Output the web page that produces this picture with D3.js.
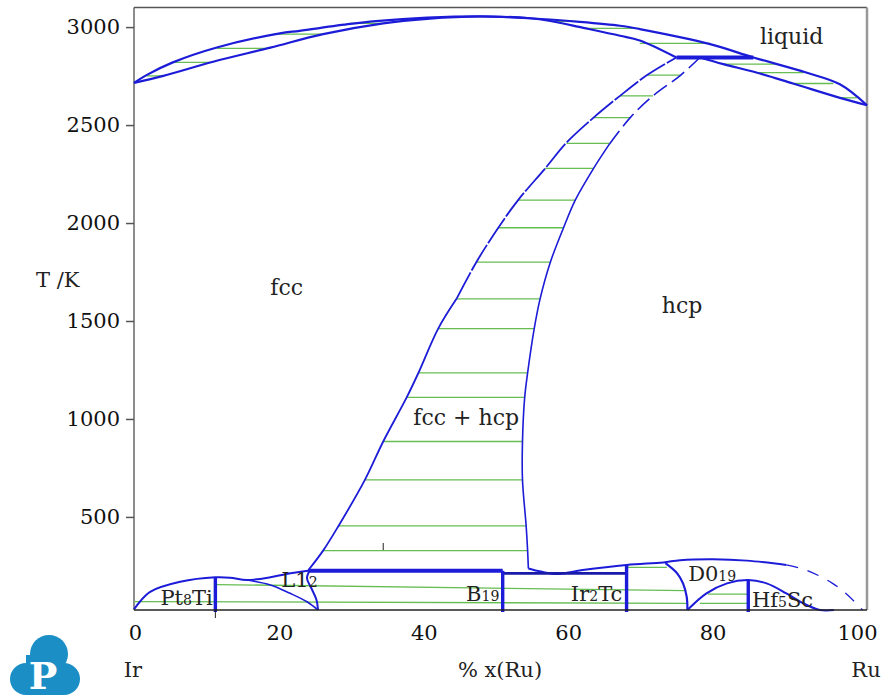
<!DOCTYPE html>
<html><head><meta charset="utf-8">
<script src="https://cdn.jsdelivr.net/npm/d3@7"></script>
<style>body{margin:0;background:#fff} svg{display:block}</style>
</head><body>
<svg id="chart" width="883" height="700"></svg>
<script>
// Ir–Ru phase diagram: composition x(Ru) in %, temperature in K

// liquid / solid boundaries
const liquidus = [[0,2715],[1.7,2755],[5.3,2820],[11.3,2896],[19.9,2968],[22.6,2981],[29.5,3016],[33,3030],[40,3048],[47.2,3055],[54,3045],[60.8,3027],[66.3,3007],[69.0,2990],[78.6,2913],[84.5,2845],[91.7,2768],[96.3,2708],[100,2601]];
const fccSolidus = [[0,2715],[4.0,2751],[10.8,2823],[18.6,2895],[25.8,2964],[34.0,3019],[40,3042],[47.2,3054],[54,3045],[56.8,3031],[61.3,2996],[66.3,2956],[69.0,2932],[74.0,2845]];
const hcpSolidus = [[77.2,2845],[80.4,2811],[84.9,2768],[89.9,2712],[96.3,2639],[100,2601]];
const peritecticT = 2845, peritecticX = [74.0, 84.5];

// fcc + hcp two-phase boundaries
const fccSolvus = [[23.8,229],[25.8,328],[27.9,454],[31.5,689],[34.0,885],[37.2,1110],[38.8,1235],[41.5,1461],[44.0,1613],[46.7,1800],[49.7,1976],[52.4,2117],[56.1,2279],[59.0,2410],[62.7,2538],[66.3,2649],[70.0,2755],[74.0,2845]];
const hcpSolvus = [[53.8,237],[53.7,328],[53.5,454],[53.0,689],[53.0,885],[53.3,1110],[53.7,1235],[54.6,1461],[55.4,1613],[56.8,1800],[58.6,1976],[60.2,2117],[62.7,2279],[64.9,2405],[67.7,2538],[70.8,2649],[74.6,2755],[77.2,2845]];
const fccSolvusDashFrom = 1613, hcpSolvusDashFrom = 2405;

// low-temperature ordered phases
const pt8TiDome = [[0,28],[0.8,67],[2.2,118],[6.3,169],[11.1,192],[13.1,190],[15.4,178],[18.6,192],[20.8,209],[24.0,227]];
const l12Lower = [[15.4,178],[18.6,153],[21.3,110],[23.6,67],[25.1,25]];
const l12Right = [[24.0,229],[23.6,187],[24.2,136],[24.9,76],[25.1,25]];
const hcpLow = [[53.8,237],[55.5,221],[57.7,209],[61.2,229],[67.2,255],[72.2,268],[74.5,279],[79.0,284],[83.6,277],[89.0,255]];
const hcpLowDashed = [[89.0,255],[91.7,229],[95.3,161],[97.1,110],[99.4,25]];
const d019Left = [[72.5,264],[74.1,212],[74.9,161],[75.4,93],[75.5,25]];
const hf5ScDome = [[75.5,25],[78.1,110],[80.9,161],[83.8,178],[86.3,161],[89.0,110],[91.3,59],[93.6,25],[95.5,25]];
const compoundLines = [[11.1,192],[50.3,225],[67.2,255],[83.8,178]];   // [x, top T]
const threePhase = [225, 23.8, 50.3];
const b19Top = [212, 50.3, 67.2];

// tie lines [T, x1, x2]
const liquidTies = [[2751,1.7,4.0],[2820,5.3,10.8],[2891,11.3,18.6],[2964,19.0,25.8],[3019,29.5,34.0],[3029,56.8,60.4],[2993,61.3,69.0],[2917,69.0,78.6],
  [2811,80.4,87.7],[2768,84.9,91.3],[2712,89.9,95.4],[2639,96.3,98.6]];
const twoPhaseTies = [[2755,70.0,74.6],[2649,66.3,70.8],[2538,62.7,67.7],[2407,59.0,64.9],[2279,56.1,62.7],[2117,52.4,60.2],[1976,49.7,58.6],[1800,46.7,56.8],
  [1613,44.0,55.4],[1461,41.5,54.6],[1235,38.8,53.7],[1110,37.2,53.3],[885,34.0,53.0],[689,31.5,53.0],[454,27.9,53.5],[328,25.8,53.7]];
const lowTies = [[0,68,75.4,59],[11.2,155,75.3,124],[67.2,243,72.7,243],[78.3,106,83.8,106],[77.2,59,83.8,59]]; // [x1,T1,x2,T2]

// axis ticks
const xTicks = [0,20,40,60,80,100];
const yTicks = [500,1000,1500,2000,2500,3000];

// phase labels
const phaseLabels = [
  {parts:[["liquid",0]], x:85.4, t:2913},
  {parts:[["fcc",0]], x:18.6, t:1635},
  {parts:[["hcp",0]], x:72.0, t:1543},
  {parts:[["fcc + hcp",0]], x:38.1, t:970}
];
const phaseSmallLabels = [
  {parts:[["Pt",0],["8",1],["Ti",0]], x:3.6, t:50},
  {parts:[["L1",0],["2",1]], x:20.1, t:144},
  {parts:[["B",0],["19",1]], x:45.3, t:72},
  {parts:[["Ir",0],["2",1],["Tc",0]], x:59.6, t:72},
  {parts:[["D0",0],["19",1]], x:75.6, t:174},
  {parts:[["Hf",0],["5",1],["Sc",0]], x:84.3, t:41}
];

const svg = d3.select('#chart');
const x = d3.scaleLinear().domain([0,100]).range([134,867]);
const y = d3.scaleLinear().domain([25,3100]).range([610,7.5]);
const xLabel = d3.scaleLinear().domain([0,100]).range([135,857]);

const FONT = "'DejaVu Serif', serif";
const BLUE = "#1c1cd8";
const GREEN = "#66bd52";

const smooth = d3.line().x(d=>x(d[0])).y(d=>y(d[1])).curve(d3.curveCatmullRom.alpha(0.5));

// frame
const fr = svg.append('g');
fr.append('line').attr('x1',x(0)).attr('x2',x(0)).attr('y1',y(3100)).attr('y2',y(25)).attr('stroke','#666').attr('stroke-width',1.5);
fr.append('line').attr('x1',x(0)).attr('x2',x(100)).attr('y1',y(3100)).attr('y2',y(3100)).attr('stroke','#555').attr('stroke-width',1.5);
fr.append('line').attr('x1',x(100)).attr('x2',x(100)).attr('y1',y(3100)).attr('y2',y(25)).attr('stroke','#999').attr('stroke-width',2.5);

// y axis
const ya = svg.append('g').attr('transform',`translate(${x(0)},0)`)
  .call(d3.axisLeft(y).tickValues(yTicks).tickFormat(d3.format('d')).tickSize(8).tickPadding(6));
ya.select('.domain').remove();
ya.selectAll('line').attr('stroke','#555').attr('stroke-width',1.5);
ya.selectAll('text').attr('font-family',FONT).attr('font-size',21).attr('fill','#111');

// x axis labels
const xa = svg.append('g').attr('transform',`translate(0,${y(25)})`)
  .call(d3.axisBottom(xLabel).tickValues(xTicks).tickFormat(d3.format('d')).tickSize(0).tickPadding(15));
xa.select('.domain').remove();
xa.selectAll('text').attr('font-family',FONT).attr('font-size',21).attr('fill','#111');

// tie lines
const ties = svg.append('g').attr('stroke',GREEN).attr('stroke-width',1.3);
liquidTies.concat(twoPhaseTies).forEach(d=>{
  ties.append('line').attr('x1',x(d[1])).attr('x2',x(d[2])).attr('y1',y(d[0])).attr('y2',y(d[0]));
});
lowTies.forEach(d=>{
  ties.append('line').attr('x1',x(d[0])).attr('x2',x(d[2])).attr('y1',y(d[1])).attr('y2',y(d[3]));
});

// phase boundaries
const bd = svg.append('g').attr('fill','none').attr('stroke',BLUE).attr('stroke-linejoin','round');
bd.append('path').attr('d',smooth(liquidus)).attr('stroke-width',2.2);
bd.append('path').attr('d',smooth(fccSolidus)).attr('stroke-width',2.2);
bd.append('path').attr('d',smooth(hcpSolidus)).attr('stroke-width',2.2);

const fccLo = fccSolvus.filter(d=>d[1]<=fccSolvusDashFrom), fccHi = fccSolvus.filter(d=>d[1]>=fccSolvusDashFrom);
const hcpLo = hcpSolvus.filter(d=>d[1]<=hcpSolvusDashFrom), hcpHi = hcpSolvus.filter(d=>d[1]>=hcpSolvusDashFrom);
bd.append('path').attr('d',smooth(fccLo)).attr('stroke-width',1.8);
bd.append('path').attr('d',smooth(fccHi)).attr('stroke-width',1.8).attr('stroke-dasharray','30,2');
bd.append('path').attr('d',smooth(hcpLo)).attr('stroke-width',1.6);
bd.append('path').attr('d',smooth(hcpHi)).attr('stroke-width',1.6).attr('stroke-dasharray','16,6');

bd.append('path').attr('d',smooth(pt8TiDome)).attr('stroke-width',2);
bd.append('path').attr('d',smooth(l12Lower)).attr('stroke-width',1.6);
bd.append('path').attr('d',smooth(l12Right)).attr('stroke-width',2);
bd.append('path').attr('d',smooth(hcpLow)).attr('stroke-width',2);
bd.append('path').attr('d',smooth(hcpLowDashed)).attr('stroke-width',1.3).attr('stroke-dasharray','12,10');
bd.append('path').attr('d',smooth(d019Left)).attr('stroke-width',2.2);
bd.append('path').attr('d',smooth(hf5ScDome)).attr('stroke-width',2);

// invariant lines and compound lines
bd.append('line').attr('x1',x(peritecticX[0])).attr('x2',x(peritecticX[1])).attr('y1',y(peritecticT)).attr('y2',y(peritecticT)).attr('stroke-width',4);
bd.append('line').attr('x1',x(threePhase[1])).attr('x2',x(threePhase[2])).attr('y1',y(threePhase[0])).attr('y2',y(threePhase[0])).attr('stroke-width',4);
bd.append('line').attr('x1',x(b19Top[1])).attr('x2',x(b19Top[2])).attr('y1',y(b19Top[0])).attr('y2',y(b19Top[0])).attr('stroke','#1a1aa8').attr('stroke-width',2.6);
compoundLines.forEach(d=>{
  bd.append('line').attr('x1',x(d[0])).attr('x2',x(d[0])).attr('y1',y(d[1])).attr('y2',y(25)+2).attr('stroke-width',3.4);
});

// bottom axis line and small marks
svg.append('line').attr('x1',x(0)).attr('x2',x(100)).attr('y1',y(25)).attr('y2',y(25)).attr('stroke','#222').attr('stroke-width',1.5);
svg.append('line').attr('x1',x(11.1)).attr('x2',x(11.1)).attr('y1',y(25)).attr('y2',y(25)+8).attr('stroke','#222').attr('stroke-width',1);
svg.append('line').attr('x1',x(34.0)).attr('x2',x(34.0)).attr('y1',y(367)).attr('y2',y(331)).attr('stroke','#222').attr('stroke-width',1);

// labels
function label(g, d, size, small){
  const t = g.append('text').attr('x',x(d.x)).attr('y',y(d.t)).attr('font-family',FONT).attr('font-size',size).attr('fill','#222');
  d.parts.forEach(p=>t.append('tspan').attr('font-size',p[1]?small:size).text(p[0]));
}
const lg = svg.append('g');
phaseLabels.forEach(d=>label(lg,d,22,22));
phaseSmallLabels.forEach(d=>label(lg,d,21,14));

const txt = (s,px,py,anchor)=>svg.append('text').attr('x',px).attr('y',py).attr('text-anchor',anchor)
  .attr('font-family',FONT).attr('font-size',21).attr('fill','#222').text(s);
txt('T /K',36,287,'start');
txt('% x(Ru)',500,677,'middle');
txt('Ir',133,677,'middle');
txt('Ru',866,677,'middle');

// logo
const logo = svg.append('g').attr('fill','#1b8fc5');
logo.append('circle').attr('cx',49).attr('cy',654).attr('r',19);
logo.append('circle').attr('cx',26).attr('cy',679).attr('r',16);
logo.append('circle').attr('cx',64).attr('cy',679).attr('r',16);
logo.append('rect').attr('x',26).attr('y',655).attr('width',38).attr('height',40);
svg.append('text').attr('x',43).attr('y',689).attr('text-anchor','middle')
  .attr('font-family',FONT).attr('font-weight','bold').attr('font-size',38).attr('fill','#fff').text('P');
</script>
</body></html>
